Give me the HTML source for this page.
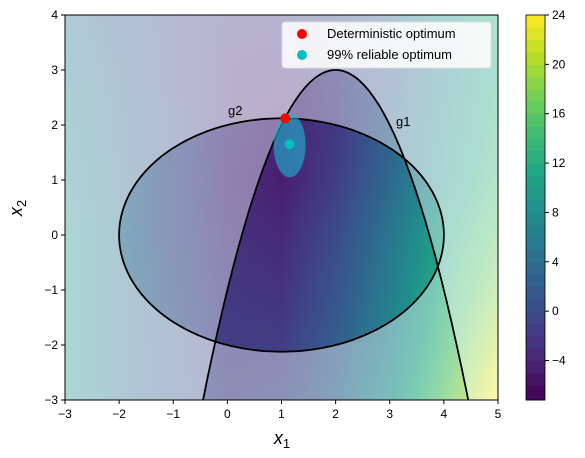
<!DOCTYPE html>
<html><head><meta charset="utf-8">
<style>
body{margin:0;background:#fff;width:585px;height:458px;overflow:hidden;font-family:"Liberation Sans",sans-serif}
#wrap{position:relative;width:585px;height:458px}
canvas{position:absolute}
svg{position:absolute;left:0;top:0}
</style></head><body>
<div id="wrap">
<canvas id="field" width="433" height="385" style="left:65px;top:15px"></canvas>
<svg id="svg" width="585" height="458"></svg>
</div>
<script>
// grid of objective values: rows y=4..-3, columns x=-3..5
const gridX = [-3,-2,-1,0,1,2,3,4,5];
const gridY = [4,3,2,1,0,-1,-2,-3];
const gridVals = [
 [5,2,0,-2,-2,0,4,9,13],
 [6,3,0,-2.5,-3,-1.5,2,7,12],
 [7,3.5,0.5,-2.5,-4,-2,2.5,8,13],
 [8,4,0.5,-3,-4.5,-1.5,3.5,9,14],
 [9,4.5,0.5,-2.5,-3.5,0,5,11,16],
 [9,4.5,1,-2,-2.5,1,6,12.5,18],
 [9,4.5,1.5,-1.5,-1.5,2,7,14,21],
 [9,4.5,1.5,-1,-0.5,3,8.5,16,24]
];
const detOpt = [1.07, 2.12];
const relOpt = [1.15, 1.65];
const cbTicks = [-4,0,4,8,12,16,20,24];
const xTicks = [-3,-2,-1,0,1,2,3,4,5];
const yTicks = [-3,-2,-1,0,1,2,3,4];
const vmin=-7.2, vmax=24;

const X0=65,X1=498,Y0=400,Y1=15;
const sx=x=>X0+(x+3)/8*(X1-X0);
const sy=y=>Y0-(y+3)/7*(Y0-Y1);
const vir=[[68,1,84],[72,35,116],[64,67,135],[52,94,141],[41,120,142],[32,144,140],[34,167,132],[68,190,112],[121,209,81],[189,222,38],[253,231,37]];
function cmap(v){let t=Math.max(0,Math.min(1,(v-vmin)/(vmax-vmin)))*10;let i=Math.min(9,Math.floor(t)),f=t-i;
 return vir[i].map((c,k)=>c+(vir[i+1][k]-c)*f);}
function fval(x,y){
 let fx=(x+3), fy=(4-y);
 let i=Math.min(7,Math.max(0,Math.floor(fx))), j=Math.min(6,Math.max(0,Math.floor(fy)));
 let a=fx-i,b=fy-j;
 return gridVals[j][i]*(1-a)*(1-b)+gridVals[j][i+1]*a*(1-b)+gridVals[j+1][i]*(1-a)*b+gridVals[j+1][i+1]*a*b;
}
const inE=(x,y)=>(x-1)*(x-1)/9+y*y/4.5<=1;
const inP=(x,y)=>y<=3-(x-2)*(x-2);
const ctx=document.getElementById('field').getContext('2d');
const step=2;
for(let px=0;px<433;px+=step){for(let py=0;py<385;py+=step){
 let x=-3+(px+1)/433*8, y=4-(py+1)/385*7;
 let c=cmap(fval(x,y)); let n=(inE(x,y)?1:0)+(inP(x,y)?1:0);
 let w=n==2?0:(n==1?0.4:0.62);
 let r=c.map(v=>Math.round(v*(1-w)+255*w));
 ctx.fillStyle=`rgb(${r[0]},${r[1]},${r[2]})`;ctx.fillRect(px,py,step,step);
}}
const svg=document.getElementById('svg');const NS='http://www.w3.org/2000/svg';
function el(t,a,p){const e=document.createElementNS(NS,t);for(const k in a)e.setAttribute(k,a[k]);(p||svg).appendChild(e);return e;}
let d='';for(let i=0;i<=200;i++){let th=i/200*2*Math.PI;d+=(i?'L':'M')+sx(1+3*Math.cos(th)).toFixed(1)+','+sy(Math.sqrt(4.5)*Math.sin(th)).toFixed(1);}
let ge=el('path',{d:d+'Z',fill:'none',stroke:'#000','stroke-width':1.8});


d='';for(let i=0;i<=200;i++){let x=2-Math.sqrt(6)+i/200*2*Math.sqrt(6);d+=(i?'L':'M')+sx(x).toFixed(1)+','+sy(3-(x-2)*(x-2)).toFixed(1);}
let gp=el('path',{d:d,fill:'none',stroke:'#000','stroke-width':1.8});


let ce=el('ellipse',{cx:sx(relOpt[0]),cy:sy(relOpt[1])+1,rx:16,ry:32,fill:'#1fb8d0','fill-opacity':0.6});


let t1=el('text',{x:228,y:115,'font-size':13});t1.textContent='g2';


let t2=el('text',{x:396,y:126,'font-size':13});t2.textContent='g1';


let p1=el('circle',{cx:sx(detOpt[0]),cy:sy(detOpt[1]),r:5,fill:'#ff0000'});


let p2=el('circle',{cx:sx(relOpt[0]),cy:sy(relOpt[1]),r:5,fill:'#00bfbf'});


let fr=el('rect',{x:X0,y:Y1,width:X1-X0,height:Y0-Y1,fill:'none',stroke:'#000','stroke-width':1});


xTicks.forEach(v=>{let x=sx(v);el('line',{x1:x,x2:x,y1:Y0,y2:Y0+4,stroke:'#000'});
 let t=el('text',{x:x,y:Y0+18,'font-size':12,'text-anchor':'middle'});t.textContent=(v<0?'\u2212':'')+Math.abs(v);
 
 });
yTicks.forEach(v=>{let y=sy(v);el('line',{x1:X0-4,x2:X0,y1:y,y2:y,stroke:'#000'});
 let t=el('text',{x:X0-7,y:y+4,'font-size':12,'text-anchor':'end'});t.textContent=(v<0?'\u2212':'')+Math.abs(v);
 
 });
let xl=el('text',{x:282,y:444,'font-size':18,'text-anchor':'middle','font-style':'italic'});xl.innerHTML='x<tspan font-size="13" dy="4" font-style="normal">1</tspan>';


let yl=el('text',{x:0,y:0,'font-size':18,'text-anchor':'middle','font-style':'italic',transform:'translate(22,208) rotate(-90)'});yl.innerHTML='x<tspan font-size="13" dy="4" font-style="normal">2</tspan>';


let lg=el('g',{});


el('rect',{x:282,y:22,width:209,height:46,rx:3,fill:'#fff','fill-opacity':0.85,stroke:'#ddd'},lg);
el('circle',{cx:302,cy:34,r:5,fill:'#ff0000'},lg);
el('circle',{cx:302,cy:55,r:5,fill:'#00bfbf'},lg);
let l1=el('text',{x:327,y:38,'font-size':13},lg);l1.textContent='Deterministic optimum';


let l2=el('text',{x:327,y:59,'font-size':13},lg);l2.textContent='99% reliable optimum';


const CX=526,CW=19;const cy=v=>Y0-(v-vmin)/(vmax-vmin)*(Y0-Y1);
for(let v=Math.floor(vmin);v<vmax;v+=1){let a=Math.max(v,vmin),b=Math.min(v+1,vmax);let c=cmap(a+0.5).map(Math.round);
 let r=el('rect',{x:CX,y:cy(b),width:CW,height:cy(a)-cy(b)+0.5,fill:`rgb(${c})`});
 
 }
el('rect',{x:CX,y:Y1,width:CW,height:Y0-Y1,fill:'none',stroke:'#000','stroke-width':0.8});
cbTicks.forEach(v=>{let y=cy(v);el('line',{x1:CX+CW,x2:CX+CW+4,y1:y,y2:y,stroke:'#000'});
 let t=el('text',{x:CX+CW+7,y:y+4,'font-size':12});t.textContent=(v<0?'\u2212':'')+Math.abs(v);
 
 });
</script>
</body></html>
